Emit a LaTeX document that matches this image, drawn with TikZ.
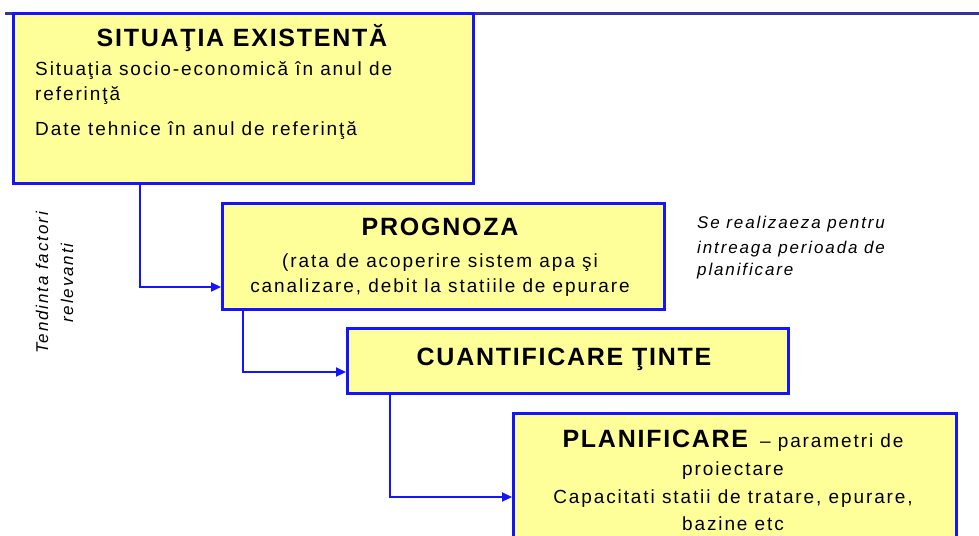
\documentclass[tikz,border=0pt]{standalone}
\usepackage{fontspec}
\setmainfont{Liberation Sans}
\usetikzlibrary{arrows.meta}
\definecolor{boxfill}{HTML}{FFFF99}
\definecolor{boxline}{HTML}{1414FF}
\definecolor{topline}{HTML}{33339A}
\newcommand{\ttlfont}{\fontsize{25}{25}\selectfont\bfseries\addfontfeature{LetterSpace=7}}
\newcommand{\bdyfont}{\fontsize{19}{19}\selectfont\addfontfeature{LetterSpace=10}}
\tikzset{
  box/.style={draw=boxline, line width=3pt, fill=boxfill, anchor=north west, inner sep=0pt},
  conn/.style={draw=boxline, line width=2.2pt, -{Triangle[length=10pt,width=9pt]}},
  title/.style={font=\ttlfont, anchor=base, inner sep=0pt},
  body/.style={font=\bdyfont, inner sep=0pt},
  note/.style={font=\fontsize{17}{17}\selectfont\itshape\addfontfeature{LetterSpace=11}, inner sep=0pt, anchor=base west},
}
\begin{document}
\begin{tikzpicture}[x=1pt,y=-1pt]
\useasboundingbox (0,0) rectangle (979,535);
\begin{scope}
\clip (0,0) rectangle (979,535);
\draw[topline, line width=3pt] (5,14) -- (979,14);
\node[box, minimum width=460pt, minimum height=170pt] (b1) at (12,12) {};
\node[box, minimum width=442pt, minimum height=106pt] (b2) at (221,202) {};
\node[box, minimum width=441pt, minimum height=65pt] (b3) at (346,327) {};
\node[box, minimum width=443pt, minimum height=140pt] (b4) at (512,412) {};

% box 1 text
\node[title] (t1) at (242,47) {SITUAŢIA EXISTENTĂ};
\node[body, anchor=base west] (t1a) at (35,75) {Situaţia socio-economică în anul de};
\node[body, anchor=base west] (t1b) at (35,100) {referinţă};
\node[body, anchor=base west] (t1c) at (35,135) {Date tehnice în anul de referinţă};

% box 2 text
\node[title] (t2) at (440,235) {PROGNOZA};
\node[body, anchor=base] (t2a) at (440,267) {(rata de acoperire sistem apa şi};
\node[body, anchor=base] (t2b) at (440,292) {canalizare, debit la statiile de epurare};

% box 3 text
\node[title] (t3) at (564,365) {CUANTIFICARE ŢINTE};

% box 4 text
\node[anchor=base, inner sep=0pt] (t4) at (733,447) {{\ttlfont PLANIFICARE}\hspace{12pt}{\bdyfont – parametri de}};
\node[body, anchor=base] (t4a) at (733,475) {proiectare};
\node[body, anchor=base] (t4b) at (733,503) {Capacitati statii de tratare, epurare,};
\node[body, anchor=base] (t4c) at (733,530) {bazine etc};

% connectors
\coordinate (c1) at (140,287);
\coordinate (c2) at (243,372);
\coordinate (c3) at (390,497);
\draw[conn] (b1.south west -| c1) -- (c1) -- (c1 -| b2.west);
\draw[conn] (b2.south west -| c2) -- (c2) -- (c2 -| b3.west);
\draw[conn] (b3.south west -| c3) -- (c3) -- (c3 -| b4.west);

% side notes
\node[note, rotate=90, anchor=center] (n1) at (42,283) {Tendinta factori};
\node[note, rotate=90, anchor=center] (n2) at (67,283) {relevanti};
\node[note] (r1) at (697,228) {Se realizaeza pentru};
\node[note] (r2) at (697,253) {intreaga perioada de};
\node[note] (r3) at (697,275) {planificare};
\end{scope}
\end{tikzpicture}
\end{document}
